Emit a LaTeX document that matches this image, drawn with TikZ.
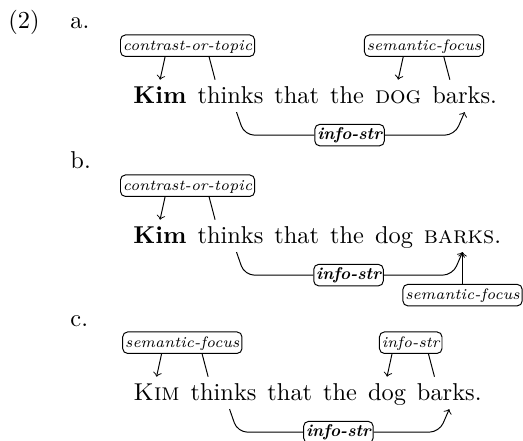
\documentclass[tikz,border=0pt]{standalone}
\usepackage{amsmath}
\usepackage{tikz}
\usetikzlibrary{calc, positioning}

\begin{document}
\begin{tikzpicture}[x=0.41pt, y=0.41pt, node distance=4.1pt,
    word/.style={inner sep=0pt, text height=1.6ex, text depth=.25ex},
    tag/.style={draw, rounded corners=2pt, inner sep=1pt, fill=white,
        font=\fontsize{6.2}{7}\selectfont\itshape, text height=5.2pt, text depth=1.6pt},
    boldtag/.style={tag, font=\scriptsize\bfseries\itshape},
    num/.style={anchor=base west, inner sep=0pt}]

    \useasboundingbox (0,0) rectangle (523,-440);

    % Example number and item letters
    \node[num] (ex)  at (8,-28)   {(2)};
    \node[num] (ita) at (70,-28)  {a.};
    \node[num] (itb) at (70,-168) {b.};
    \node[num] (itc) at (70,-326) {c.};

    % Sentence a
    \node[word, anchor=base west] (a-kim) at (133,-103) {\textbf{Kim}};
    \node[word, base right=of a-kim]    (a-thinks) {thinks};
    \node[word, base right=of a-thinks] (a-that)   {that};
    \node[word, base right=of a-that]   (a-the)    {the};
    \node[word, base right=of a-the]    (a-dog)    {\textsc{dog}};
    \node[word, base right=of a-dog]    (a-barks)  {barks.};

    % Points above and below sentence a
    \coordinate (a-t1) at ($(a-kim.north)+(0,6)$);
    \coordinate (a-t2) at ($(a-thinks.north west)+(18,6)$);
    \coordinate (a-t3) at ($(a-dog.north)+(0,6)$);
    \coordinate (a-t4) at ($(a-barks.north west)+(18,6)$);
    \coordinate (a-b1) at ($(a-thinks.south)+(6,-6)$);
    \coordinate (a-e1) at ($(a-barks.south)+(0,-6)$);
    \coordinate (a-b2) at ($(a-b1)+(8,-23)$);
    \coordinate (a-b3) at ($(a-e1)+(-10,-23)$);

    % Labels of sentence a
    \node[tag] (a-ct) at ($(a-t1)!.5!(a-t2)+(0,34)$) {contrast-or-topic};
    \node[tag] (a-sf) at ($(a-t3)!.5!(a-t4)+(0,34)$) {semantic-focus};
    \node[boldtag] (a-is) at ($(a-b2)!.5!(a-b3)$) {info-str};

    \draw[->] (a-ct.south -| {$(a-t1)+(5,0)$}) -- (a-t1);
    \draw (a-ct.south -| {$(a-t2)+(-6,0)$}) -- (a-t2);
    \draw[->] (a-sf.south -| {$(a-t3)+(5,0)$}) -- (a-t3);
    \draw (a-sf.south -| {$(a-t4)+(-6,0)$}) -- (a-t4);
    \draw[rounded corners=4pt] (a-b1) -- (a-b2) -- (a-is.west);
    \draw[->, rounded corners=4pt] (a-is.east) -- (a-b3) -- (a-e1);

    % Sentence b
    \node[word, anchor=base west] (b-kim) at (133,-243) {\textbf{Kim}};
    \node[word, base right=of b-kim]    (b-thinks) {thinks};
    \node[word, base right=of b-thinks] (b-that)   {that};
    \node[word, base right=of b-that]   (b-the)    {the};
    \node[word, base right=of b-the]    (b-dog)    {dog};
    \node[word, base right=of b-dog]    (b-barks)  {\textsc{barks}.};

    % Points above and below sentence b
    \coordinate (b-t1) at ($(b-kim.north)+(0,6)$);
    \coordinate (b-t2) at ($(b-thinks.north west)+(18,6)$);
    \coordinate (b-b1) at ($(b-thinks.south)+(6,-6)$);
    \coordinate (b-e1) at ($(b-barks.south)+(0,-6)$);
    \coordinate (b-b2) at ($(b-b1)+(8,-23)$);
    \coordinate (b-b3) at ($(b-e1)+(-10,-23)$);

    % Labels of sentence b
    \node[tag] (b-ct) at ($(b-t1)!.5!(b-t2)+(0,34)$) {contrast-or-topic};
    \node[boldtag] (b-is) at ($(b-b2)!.5!(b-b3)$) {info-str};
    \node[tag] (b-sf) at ($(b-e1)+(0,-43)$) {semantic-focus};

    \draw[->] (b-ct.south -| {$(b-t1)+(5,0)$}) -- (b-t1);
    \draw (b-ct.south -| {$(b-t2)+(-6,0)$}) -- (b-t2);
    \draw[rounded corners=4pt] (b-b1) -- (b-b2) -- (b-is.west);
    \draw[->, rounded corners=4pt] (b-is.east) -- (b-b3) -- (b-e1);
    \draw[->] (b-sf.north) -- (b-e1);

    % Sentence c
    \node[word, anchor=base west] (c-kim) at (133,-400) {\textsc{Kim}};
    \node[word, base right=of c-kim]    (c-thinks) {thinks};
    \node[word, base right=of c-thinks] (c-that)   {that};
    \node[word, base right=of c-that]   (c-the)    {the};
    \node[word, base right=of c-the]    (c-dog)    {dog};
    \node[word, base right=of c-dog]    (c-barks)  {barks.};

    % Points above and below sentence c
    \coordinate (c-t1) at ($(c-kim.north)+(0,6)$);
    \coordinate (c-t2) at ($(c-thinks.north west)+(18,6)$);
    \coordinate (c-t3) at ($(c-dog.north)+(0,6)$);
    \coordinate (c-t4) at ($(c-barks.north west)+(18,6)$);
    \coordinate (c-b1) at ($(c-thinks.south)+(6,-6)$);
    \coordinate (c-e1) at ($(c-barks.south)+(0,-6)$);
    \coordinate (c-b2) at ($(c-b1)+(8,-23)$);
    \coordinate (c-b3) at ($(c-e1)+(-10,-23)$);

    % Labels of sentence c
    \node[tag] (c-sf) at ($(c-t1)!.5!(c-t2)+(0,34)$) {semantic-focus};
    \node[tag] (c-it) at ($(c-t3)!.5!(c-t4)+(0,34)$) {info-str};
    \node[boldtag] (c-is) at ($(c-b2)!.5!(c-b3)$) {info-str};

    \draw[->] (c-sf.south -| {$(c-t1)+(5,0)$}) -- (c-t1);
    \draw (c-sf.south -| {$(c-t2)+(-6,0)$}) -- (c-t2);
    \draw[->] (c-it.south -| {$(c-t3)+(5,0)$}) -- (c-t3);
    \draw (c-it.south -| {$(c-t4)+(-6,0)$}) -- (c-t4);
    \draw[rounded corners=4pt] (c-b1) -- (c-b2) -- (c-is.west);
    \draw[->, rounded corners=4pt] (c-is.east) -- (c-b3) -- (c-e1);

\end{tikzpicture}
\end{document}
